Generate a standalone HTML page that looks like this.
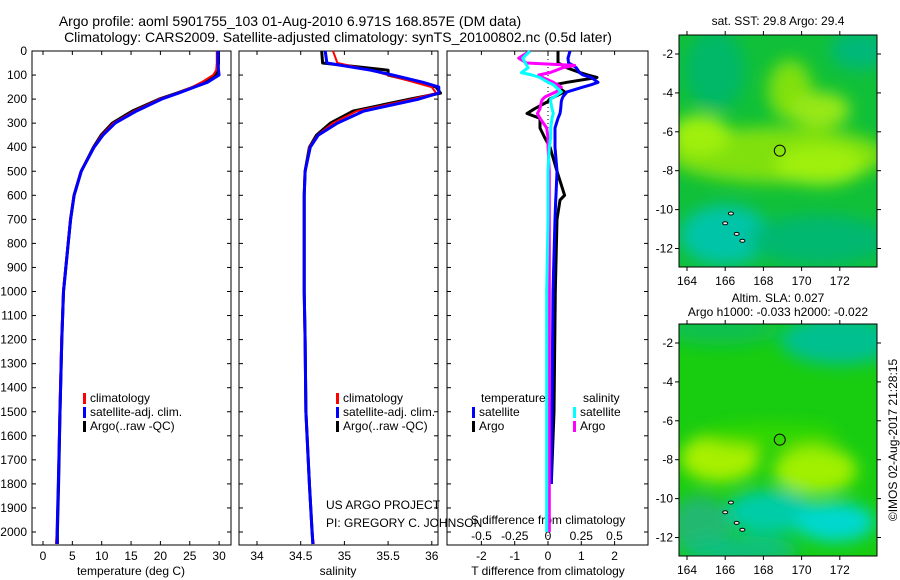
<!DOCTYPE html>
<html><head><meta charset="utf-8"><style>
html,body{margin:0;padding:0;background:#fff;}
svg{display:block;font-family:"Liberation Sans",sans-serif;}
</style></head><body>
<svg id="c" width="900" height="580" viewBox="0 0 900 580">
<defs>
<filter id="bl" x="-50%" y="-50%" width="200%" height="200%"><feGaussianBlur stdDeviation="8"/></filter>
<clipPath id="m1"><rect x="679" y="35" width="198" height="232"/></clipPath>
<clipPath id="m2"><rect x="679" y="324" width="198" height="232"/></clipPath>
</defs>
<g font-size="14" text-anchor="middle" fill="#000">
<text x="290" y="26">Argo profile: aoml 5901755_103 01-Aug-2010 6.971S 168.857E (DM data)</text>
<text x="338" y="42">Climatology: CARS2009. Satellite-adjusted climatology: synTS_20100802.nc (0.5d later)</text>
</g>
<g font-size="12" text-anchor="middle">
<text x="778" y="25">sat. SST: 29.8 Argo: 29.4</text>
<text x="778" y="302">Altim. SLA: 0.027</text>
<text x="778" y="316">Argo h1000: -0.033 h2000: -0.022</text>
</g>
<text transform="translate(897,440) rotate(-90)" font-size="12" text-anchor="middle">©IMOS 02-Aug-2017 21:28:15</text>
<g id="maps"></g>
<g id="plots"></g>
</svg>
<script>
// ---------- profile data ----------
const depths   = [0, 50, 80, 100, 130, 150, 175, 200, 250, 300, 350, 400, 500, 600, 700, 800, 1000, 1200, 1500, 1800, 2000, 2050];
const tempClim = [29.6, 29.6, 29.5, 29.0, 27.0, 25.4, 22.8, 19.8, 15.5, 12.0, 10.0, 8.6, 6.4, 5.2, 4.6, 4.2, 3.4, 3.1, 2.8, 2.55, 2.35, 2.2];
const tempSat  = [29.8, 29.8, 29.9, 30.0, 28.0, 25.8, 23.1, 20.2, 15.9, 12.3, 10.2, 8.7, 6.5, 5.3, 4.7, 4.3, 3.5, 3.2, 2.9, 2.6, 2.4, 2.4];
const tempArgo = [29.9, 29.9, 29.8, 29.5, 27.2, 25.6, 22.8, 19.8, 15.2, 11.8, 9.9, 8.6, 6.5, 5.3, 4.7, 4.3, 3.5, 3.2, 2.9, 2.65, 2.45, 2.45];
const salClim  = [34.87, 34.92, 35.30, 35.50, 35.80, 36.00, 36.05, 35.78, 35.14, 34.87, 34.69, 34.60, 34.55, 34.54, 34.54, 34.54, 34.54, 34.55, 34.56, 34.60, 34.63, 34.65];
const salSat   = [34.78, 34.80, 35.30, 35.55, 35.90, 36.08, 36.08, 35.85, 35.22, 34.92, 34.70, 34.61, 34.55, 34.54, 34.54, 34.54, 34.54, 34.55, 34.56, 34.60, 34.63, 34.64];
const salArgo  = [34.74, 34.75, 35.50, 35.50, 35.85, 36.05, 36.10, 35.75, 35.10, 34.84, 34.68, 34.60, 34.55, 34.54, 34.54, 34.54, 34.54, 34.55, 34.56, 34.60, 34.63, 34.64];
const diffDepths = [0, 30, 50, 60, 70, 90, 100, 110, 130, 140, 150, 170, 190, 200, 210, 240, 260, 280, 320, 360, 400, 500, 600, 620, 700, 1000, 1500, 1800, 2000];
const tDiffSat  = [0.66, 0.60, 0.62, 0.75, 0.85, 0.95, 1.05, 1.30, 1.50, 1.30, 1.05, 0.57, 0.45, 0.42, 0.40, 0.38, 0.36, 0.30, 0.21, 0.21, 0.21, 0.27, 0.24, 0.23, 0.21, 0.15, 0.12, 0.10, null];
const tDiffArgo = [0.30, 0.30, 0.30, 0.45, 0.57, 0.96, 1.20, 1.47, 0.57, 0.20, 0.30, 0.50, 0.20, 0.05, 0.00, -0.40, -0.63, -0.24, -0.24, -0.10, 0.06, 0.27, 0.50, 0.36, 0.27, 0.22, 0.18, 0.10, null];
const sDiffSat  = [-0.135, -0.19, -0.17, -0.16, -0.15, -0.20, -0.12, -0.06, 0.00, 0.04, 0.06, 0.10, 0.05, 0.02, 0.02, 0.03, 0.04, 0.03, 0.02, 0.02, 0.01, 0.00, 0.00, 0.00, 0.00, -0.01, -0.01, -0.01, -0.01];
const sDiffArgo = [-0.135, -0.22, -0.16, 0.20, 0.11, 0.015, -0.07, -0.04, 0.04, 0.07, 0.10, 0.06, -0.02, -0.04, -0.05, -0.06, -0.08, -0.06, -0.01, 0.00, 0.00, 0.01, 0.01, 0.01, 0.01, 0.01, 0.01, 0.01, 0.01];
const depthTicks = [0,100,200,300,400,500,600,700,800,900,1000,1100,1200,1300,1400,1500,1600,1700,1800,1900,2000];
const tempTicks = [0,5,10,15,20,25,30];
const salTicks = [34,34.5,35,35.5,36];
const salTickLabels = ["34","34.5","35","35.5","36"];
const tdTicks = [-2,-1,0,1,2];
const sdTicks = [-0.5,-0.25,0,0.25,0.5];
const sdTickLabels = ["-0.5","-0.25","0","0.25","0.5"];
const latTicks = [-2,-4,-6,-8,-10,-12];
const lonTicks = [164,166,168,170,172];
const argoLon = 168.857, argoLat = -6.971;

const NS="http://www.w3.org/2000/svg";
const P=document.getElementById('plots');
function el(tag,attrs,parent,txt){const e=document.createElementNS(NS,tag);for(const k in attrs)e.setAttribute(k,attrs[k]);if(txt!==undefined)e.textContent=txt;(parent||P).appendChild(e);return e;}
const yD=d=>51+d*0.2405;
const xT=t=>43+t*5.87;
const xS=s=>257+(s-34)*87.4;
const xTD=v=>548+v*33.3;
const xSD=v=>548+v*133;
const yTop=51,yBot=545;
const panels=[{x0:32,x1:231,n:'temperature-panel'},{x0:239,x1:438,n:'salinity-panel'},{x0:447,x1:648,n:'difference-panel'}];
panels.forEach((p,i)=>{
  const g=el('g',{});
  
  
  const r=el('rect',{x:p.x0,y:yTop,width:p.x1-p.x0,height:yBot-yTop,fill:'none',stroke:'#000','stroke-width':1},g);
  
  
  depthTicks.forEach(d=>{const y=yD(d);
    el('line',{x1:p.x0,x2:p.x0+4,y1:y,y2:y,stroke:'#000'},g);
    el('line',{x1:p.x1-4,x2:p.x1,y1:y,y2:y,stroke:'#000'},g);
  });
  p.g=g;
});
depthTicks.forEach(d=>{const t=el('text',{x:27,y:yD(d)+4,'font-size':12,'text-anchor':'end'},P,String(d));
  
  });
function xticks(g,vals,labels,fx,ly,fs){vals.forEach((v,i)=>{const x=fx(v);
  el('line',{x1:x,x2:x,y1:yTop,y2:yTop+4,stroke:'#000'},g);
  el('line',{x1:x,x2:x,y1:yBot-4,y2:yBot,stroke:'#000'},g);
  const t=el('text',{x:x,y:ly,'font-size':fs||12,'text-anchor':'middle'},g,labels[i]);
  
  });}
xticks(panels[0].g,tempTicks,tempTicks.map(String),xT,560);
xticks(panels[1].g,salTicks,salTickLabels,xS,560);
xticks(panels[2].g,tdTicks,tdTicks.map(String),xTD,560);
sdTicks.forEach((v,i)=>{const x=xSD(v);const t=el('text',{x:x,y:540,'font-size':12,'text-anchor':'middle'},P,sdTickLabels[i]);
  
  });
[[131,575,'temperature (deg C)','x-axis-title-temperature'],[338,575,'salinity','x-axis-title-salinity'],[548,575,'T difference from climatology','x-axis-title-t-diff'],[548,524,'S difference from climatology','x-axis-title-s-diff']].forEach(a=>{
  const t=el('text',{x:a[0],y:a[1],'font-size':12,'text-anchor':'middle'},P,a[2]);
  
  });
const z=el('line',{x1:548,x2:548,y1:yTop,y2:yBot,stroke:'#000','stroke-dasharray':'1,3'});


function line(ds,vs,fx,color,w,name){const pts=[];ds.forEach((d,i)=>{if(vs[i]!==null)pts.push(fx(vs[i]).toFixed(1)+','+yD(d).toFixed(1));});
  const l=el('polyline',{points:pts.join(' '),fill:'none',stroke:color,'stroke-width':w,'stroke-linejoin':'round'});
  
  }
line(depths,tempArgo,xT,'#000',3,'temp-argo-line');
line(depths,tempClim,xT,'#f00',2,'temp-climatology-line');
line(depths,tempSat,xT,'#00f',3,'temp-satellite-line');
line(depths,salArgo,xS,'#000',3,'sal-argo-line');
line(depths,salClim,xS,'#f00',2,'sal-climatology-line');
line(depths,salSat,xS,'#00f',3,'sal-satellite-line');
line(diffDepths,tDiffArgo,xTD,'#000',3,'tdiff-argo-line');
line(diffDepths,tDiffSat,xTD,'#00f',3,'tdiff-satellite-line');
line(diffDepths,sDiffArgo,xSD,'#f0f',3,'sdiff-argo-line');
line(diffDepths,sDiffSat,xSD,'#0ff',3,'sdiff-satellite-line');
function leg(x,y,color,label,name){
  const r=el('rect',{x:x,y:y-9,width:3,height:11,fill:color});
  
  
  const t=el('text',{x:x+7,y:y,'font-size':12},P,label);
  
  }
[83,336].forEach(x=>{
  leg(x,402,'#f00','climatology','legend-climatology');
  leg(x,416,'#00f','satellite-adj. clim.','legend-satellite');
  leg(x,430,'#000','Argo(..raw -QC)','legend-argo');});
[['temperature',481,402,'legend-temperature-header'],['salinity',583,402,'legend-salinity-header']].forEach(a=>{
  const t=el('text',{x:a[1],y:a[2],'font-size':12},P,a[0]);
  
  });
leg(472,416,'#00f','satellite','legend-t-satellite');
leg(472,430,'#000','Argo','legend-t-argo');
leg(573,416,'#0ff','satellite','legend-s-satellite');
leg(573,430,'#f0f','Argo','legend-s-argo');
[['US ARGO PROJECT',509,'project-credit'],['PI: GREGORY C. JOHNSON',527,'pi-credit']].forEach(a=>{
  const t=el('text',{x:326,y:a[1],'font-size':12},P,a[0]);
  
  });
// ---------- maps ----------
const M=document.getElementById('maps');
const mapDefs=[
 {y0:324,clip:'m2',name:'sla-map',base:'#18cc10',blobs:[[720,330,60,15,'#10c050'],[840,340,60,25,'#00c090'],[720,458,40,24,'#a8f000'],[815,470,42,24,'#a0f000'],[770,435,70,12,'#30d800'],[770,512,45,22,'#00cca8'],[835,522,40,20,'#00d8d0'],[700,525,30,30,'#20b870'],[740,550,60,14,'#10c080']]},
 {y0:35,clip:'m1',name:'sst-map',base:'#10c038',blobs:[[715,70,30,40,'#00b868'],[860,50,30,20,'#00b878'],[790,90,22,30,'#80e010'],[820,110,30,18,'#98e818'],[778,155,110,28,'#80e010'],[700,135,30,20,'#a0f010'],[820,165,45,20,'#a0f010'],[725,235,45,30,'#00c4a8'],[820,240,70,25,'#00b870']]}
];
mapDefs.forEach(m=>{
  const y0=m.y0;
  const g=el('g',{},M);
  
  
  const cg=el('g',{'clip-path':'url(#'+m.clip+')'},g);
  el('rect',{x:679,y:y0,width:198,height:232,fill:m.base},cg);
  const bg=el('g',{filter:'url(#bl)'},cg);
  m.blobs.forEach(b=>el('ellipse',{cx:b[0],cy:b[1],rx:b[2],ry:b[3],fill:b[4]},bg));
  const lonX=lo=>687+(lo-164)*19.1;
  const latY=la=>y0+19+(-2-la)*19.45;
  [[166,-10.7],[166.3,-10.2],[166.9,-11.6],[166.6,-11.25]].forEach(p=>{
    el('ellipse',{cx:lonX(p[0]),cy:latY(p[1]),rx:2.5,ry:1.5,fill:'#f4e8e0',stroke:'#000','stroke-width':1},cg);});
  el('rect',{x:679,y:y0,width:198,height:232,fill:'none',stroke:'#000'},g);
  const c=el('circle',{cx:lonX(argoLon),cy:latY(argoLat),r:5.5,fill:'none',stroke:'#000','stroke-width':1},g);
  
  
  latTicks.forEach(la=>{const y=latY(la);
    el('line',{x1:679,x2:675,y1:y,y2:y,stroke:'#000'},g);
    el('line',{x1:877,x2:881,y1:y,y2:y,stroke:'#000'},g);
    const t=el('text',{x:673,y:y+4,'font-size':12,'text-anchor':'end'},g,String(la));
    
    });
  lonTicks.forEach(lo=>{const x=lonX(lo);
    el('line',{x1:x,x2:x,y1:y0,y2:y0-4,stroke:'#000'},g);
    el('line',{x1:x,x2:x,y1:y0+232,y2:y0+236,stroke:'#000'},g);
    const t=el('text',{x:x,y:y0+250,'font-size':12,'text-anchor':'middle'},g,String(lo));
    
    });
});
</script>
</body></html>
